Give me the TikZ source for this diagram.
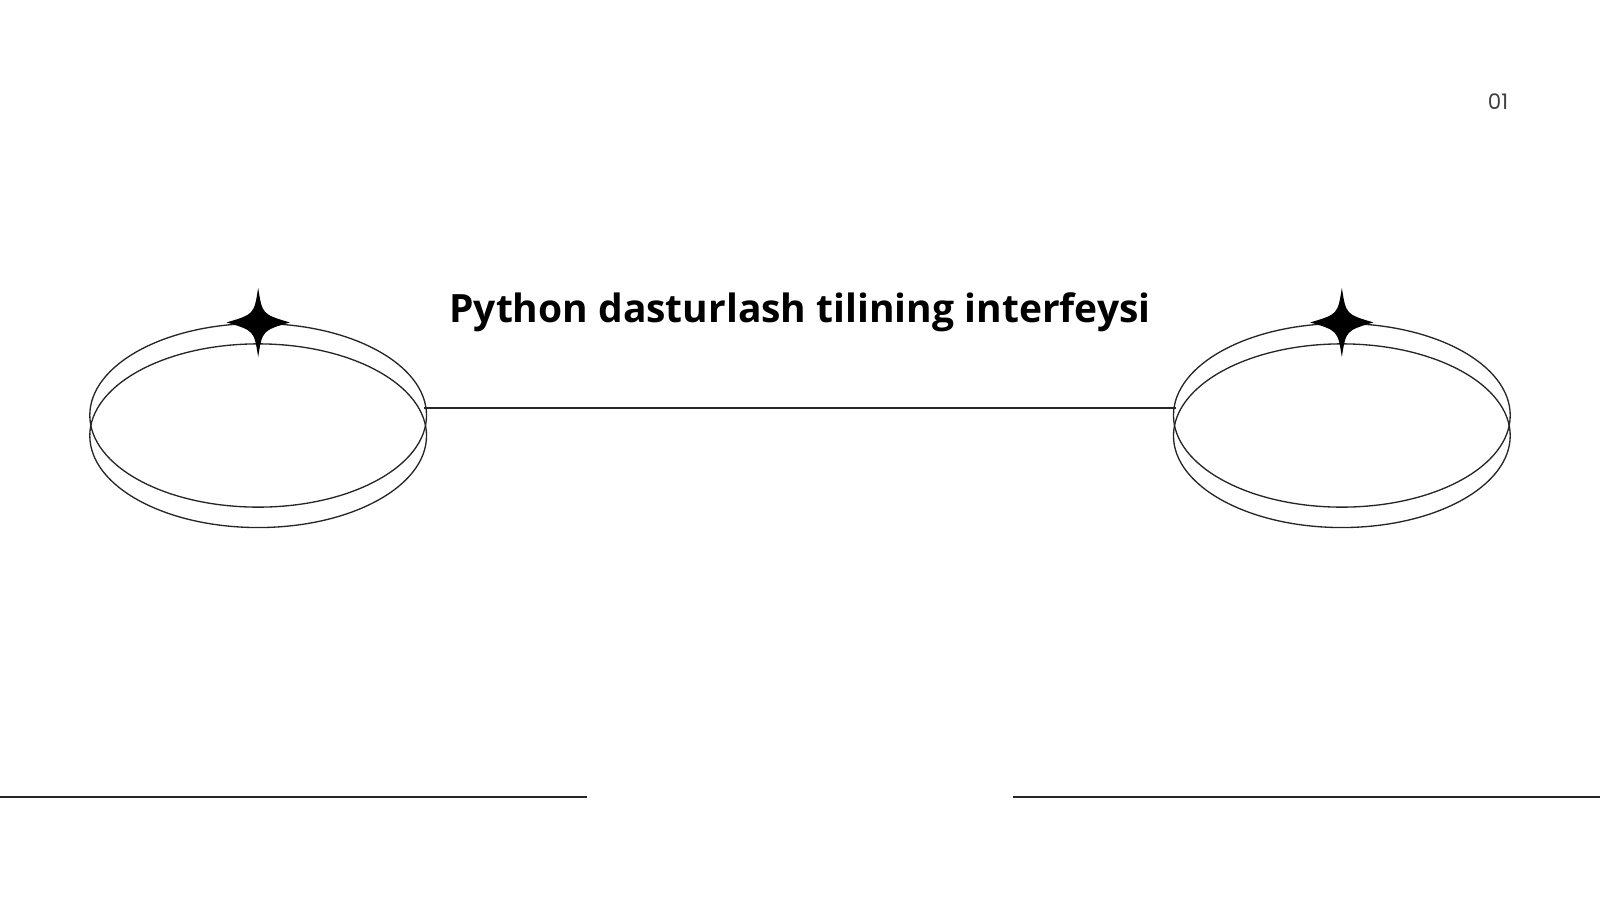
\documentclass[tikz,border=0pt]{standalone}
\usepackage{fontspec}
\setmainfont{Open Sans}
\newfontfamily\numfont{Poppins}
\begin{document}
\begin{tikzpicture}[x=1pt,y=-1pt,line width=1.3pt,
  ring/.style={draw=black!85},
  rule/.style={draw=black!85,line width=1.6pt},
  starshape/.style={fill=black}]
\useasboundingbox (0,0) rectangle (1568,882);
\newcommand{\mystar}[2]{%
  \fill (#1,#2-34) .. controls (#1+4,#2-8) .. (#1+31,#2)
     .. controls (#1+4,#2+8) .. (#1,#2+34)
     .. controls (#1-4,#2+8) .. (#1-31,#2)
     .. controls (#1-4,#2-8) .. cycle;}
\foreach \cx in {253,1315}{
  \draw[ring] (\cx,407) ellipse [x radius=165, y radius=90];
  \draw[ring] (\cx,427) ellipse [x radius=165, y radius=90];
  \mystar{\cx}{316}
}
\coordinate (la) at (416,400);
\coordinate (lb) at (1152,400);
\draw[rule] (la) -- (lb);
\node (title) at (784,306) {\fontsize{38.2}{46}\selectfont\bfseries Python dasturlash tilining interfeysi};
\node[text=black!75] (num) at (1468,100) {\numfont\fontsize{21}{25}\selectfont 01};
\coordinate (b1) at (0,781); \coordinate (b2) at (575,781);
\coordinate (b3) at (993,781); \coordinate (b4) at (1568,781);
\draw[rule] (b1) -- (b2);
\draw[rule] (b3) -- (b4);
\end{tikzpicture}
\end{document}
